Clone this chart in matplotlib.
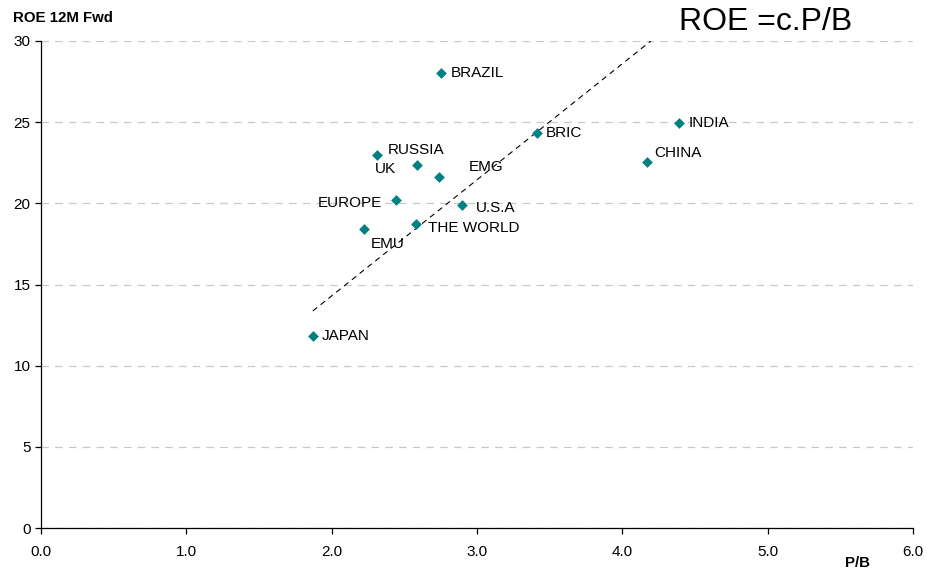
import matplotlib
matplotlib.use("Agg")
import matplotlib.pyplot as plt
import numpy as np

plt.rcParams['font.family'] = ['Liberation Sans', 'DejaVu Sans']

countries = ["JAPAN", "EMU", "EUROPE", "RUSSIA", "UK", "EMG", "BRAZIL",
             "THE WORLD", "U.S.A", "BRIC", "CHINA", "INDIA"]
pb = [1.87, 2.22, 2.44, 2.31, 2.585, 2.74, 2.75, 2.58, 2.90, 3.41, 4.17, 4.39]
roe = [11.8, 18.4, 20.2, 22.95, 22.35, 21.65, 28.05, 18.7, 19.9, 24.35, 22.55, 24.95]

# label offsets (pixels) and alignment for each country
offsets = {
    "JAPAN": (9, 0, "left"),
    "EMU": (7, -15, "left"),
    "EUROPE": (-14, -3, "right"),
    "RUSSIA": (11, 5, "left"),
    "UK": (-42, -4, "left"),
    "EMG": (30, 10, "left"),
    "BRAZIL": (10, 0, "left"),
    "THE WORLD": (12, -4, "left"),
    "U.S.A": (13, -3, "left"),
    "BRIC": (9, 0, "left"),
    "CHINA": (7, 9, "left"),
    "INDIA": (10, 0, "left"),
}

c_slope = 7.15
line_x = np.array([1.87, 30 / c_slope])

fig = plt.figure(figsize=(9.27, 5.69), dpi=100)
ax = fig.add_axes([0.0442, 0.072, 0.9408, 0.856])

ax.set_xlim(0, 6)
ax.set_ylim(0, 30)
ax.set_xticks(np.arange(0, 6.1, 1.0))
ax.set_xticklabels([f"{v:.1f}" for v in np.arange(0, 6.1, 1.0)])
ax.set_yticks(np.arange(0, 31, 5))
ax.yaxis.grid(True, linestyle=(0, (6, 5)), color="#c8c8c8", linewidth=0.9)
ax.set_axisbelow(True)
for s in ["top", "right"]:
    ax.spines[s].set_visible(False)
for s in ["left", "bottom"]:
    ax.spines[s].set_linewidth(0.9)
ax.tick_params(axis="both", labelsize=11, length=4, width=0.9, direction="out")
ax.tick_params(axis="x", pad=8)

ax.plot(line_x, c_slope * line_x, linestyle=(0, (5, 4)), color="black", linewidth=0.8)
ax.scatter(pb, roe, marker="D", s=30, color="#008080", zorder=3, linewidths=0)

for name, x, y in zip(countries, pb, roe):
    dx, dy, ha = offsets[name]
    ax.annotate(name, (x, y), xytext=(dx, dy), textcoords="offset pixels",
                ha=ha, va="center", fontsize=11)

fig.text(13 / 927, 1 - 18 / 569, "ROE 12M Fwd", fontsize=10.8, fontweight="bold",
         ha="left", va="center")
fig.text(857 / 927, 1 - 563 / 569, "P/B", fontsize=10.8, fontweight="bold",
         ha="center", va="center")
fig.text(679 / 927, 1 - 22 / 569, "ROE =c.P/B", fontsize=23, ha="left", va="center")

fig.savefig("out.png", dpi=100)
